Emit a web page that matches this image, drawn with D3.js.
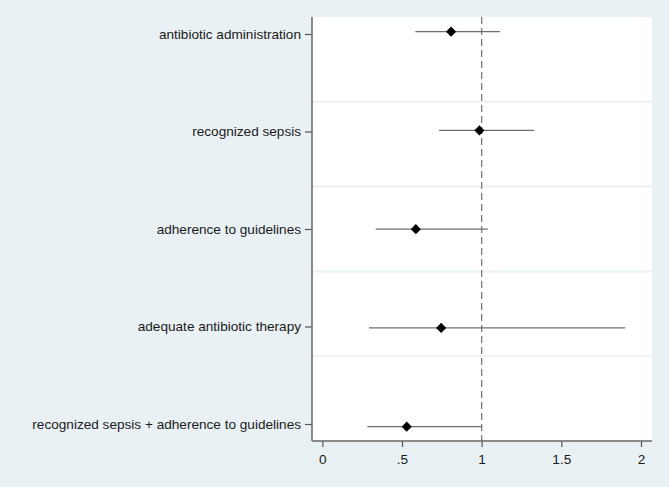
<!DOCTYPE html>
<html>
<head>
<meta charset="utf-8">
<script src="https://cdn.jsdelivr.net/npm/d3@7"></script>
<style>
  html, body { margin: 0; padding: 0; background: #e9f1f4; }
  svg { display: block; font-family: "Liberation Sans", Arial, sans-serif; }
</style>
</head>
<body>
<div id="chart"></div>
<script>
// data
var categories = [
    'antibiotic administration',
    'recognized sepsis',
    'adherence to guidelines',
    'adequate antibiotic therapy',
    'recognized sepsis + adherence to guidelines'
];
var estimates = [0.808, 0.986, 0.587, 0.746, 0.530];
var ciLow = [0.584, 0.733, 0.335, 0.293, 0.283];
var ciHigh = [1.114, 1.330, 1.039, 1.901, 1.001];
var xTicks = [0, 0.5, 1, 1.5, 2];
var xTickLabels = ['0', '.5', '1', '1.5', '2'];
var refValue = 1;

var width = 669, height = 487;
var plot = { left: 312, right: 652, top: 17, bottom: 441 };
var fontSize = 13.6;

var svg = d3.select('#chart')
    .append('svg')
    .attr('width', width)
    .attr('height', height);

svg.append('rect')
    .attr('width', width)
    .attr('height', height)
    .attr('fill', '#e9f1f4');

svg.append('rect')
    .attr('x', plot.left)
    .attr('y', plot.top)
    .attr('width', plot.right - plot.left)
    .attr('height', plot.bottom - plot.top)
    .attr('fill', '#ffffff');

var x = d3.scaleLinear()
    .domain([0, 2])
    .range([322.3, 641]);

// markers and label ticks sit on slightly different spacings in the original
var yMark = d3.scalePoint().domain(categories).range([31.7, 426.7]);
var yTick = d3.scalePoint().domain(categories).range([34, 424]);

// horizontal grid splits the plot into five equal bands
var yGrid = d3.scaleLinear().domain([0, 5]).range([plot.bottom, plot.top]);
svg.append('g')
    .selectAll('line')
    .data([1, 2, 3, 4])
    .enter()
    .append('line')
    .attr('x1', plot.left)
    .attr('x2', plot.right)
    .attr('y1', function (d) { return yGrid(d); })
    .attr('y2', function (d) { return yGrid(d); })
    .attr('stroke', '#eaf2f3')
    .attr('stroke-width', 2);

// reference line
svg.append('line')
    .attr('x1', x(refValue))
    .attr('x2', x(refValue))
    .attr('y1', plot.top)
    .attr('y2', plot.bottom)
    .attr('stroke', '#7a7a7a')
    .attr('stroke-width', 1.3)
    .attr('stroke-dasharray', '7,4');

var rows = categories.map(function (c, i) {
    return { name: c, est: estimates[i], lo: ciLow[i], hi: ciHigh[i] };
});

svg.append('g')
    .selectAll('line')
    .data(rows)
    .enter()
    .append('line')
    .attr('x1', function (d) { return x(d.lo); })
    .attr('x2', function (d) { return x(d.hi); })
    .attr('y1', function (d) { return yMark(d.name); })
    .attr('y2', function (d) { return yMark(d.name); })
    .attr('stroke', '#6e6e6e')
    .attr('stroke-width', 1.3);

var diamond = d3.symbol().type(d3.symbolSquare).size(52);
svg.append('g')
    .selectAll('path')
    .data(rows)
    .enter()
    .append('path')
    .attr('d', diamond)
    .attr('transform', function (d) {
        return 'translate(' + x(d.est) + ',' + yMark(d.name) + ') rotate(45)';
    })
    .attr('fill', '#000000');

// y axis
var yAxis = svg.append('g')
    .attr('transform', 'translate(' + plot.left + ',0)')
    .call(d3.axisLeft(yTick).tickSize(7).tickPadding(4));
yAxis.select('.domain').remove();
yAxis.append('line')
    .attr('y1', plot.top)
    .attr('y2', plot.bottom)
    .attr('stroke', '#666666')
    .attr('stroke-width', 1.5);
yAxis.selectAll('.tick line').attr('stroke', '#555555').attr('stroke-width', 1.2);
yAxis.selectAll('.tick text')
    .attr('fill', '#1a1a1a')
    .attr('font-size', fontSize)
    .attr('font-family', '"Liberation Sans", Arial, sans-serif');

// x axis
var xAxis = svg.append('g')
    .attr('transform', 'translate(0,' + plot.bottom + ')')
    .call(d3.axisBottom(x)
        .tickValues(xTicks)
        .tickFormat(function (d, i) { return xTickLabels[i]; })
        .tickSize(6)
        .tickPadding(7));
xAxis.select('.domain').remove();
xAxis.append('line')
    .attr('x1', plot.left)
    .attr('x2', plot.right)
    .attr('stroke', '#666666')
    .attr('stroke-width', 1.5);
xAxis.selectAll('.tick line').attr('stroke', '#555555').attr('stroke-width', 1.2);
xAxis.selectAll('.tick text')
    .attr('fill', '#1a1a1a')
    .attr('font-size', fontSize)
    .attr('font-family', '"Liberation Sans", Arial, sans-serif');
</script>
</body>
</html>
